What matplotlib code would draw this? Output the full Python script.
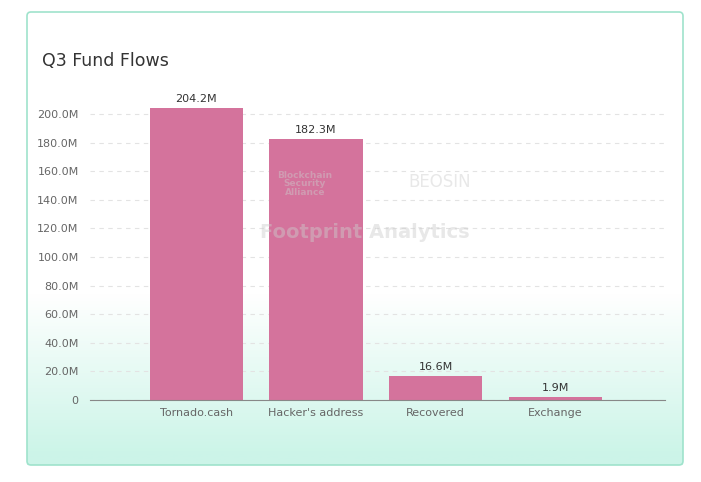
import matplotlib.pyplot as plt
import numpy as np
from matplotlib.patches import FancyBboxPatch

categories = ["Tornado.cash", "Hacker's address", "Recovered", "Exchange"]
values = [204.2, 182.3, 16.6, 1.9]
ticks = [0, 20, 40, 60, 80, 100, 120, 140, 160, 180, 200]

fig = plt.figure(figsize=(7.01, 4.82), dpi=100)

# background card with gradient towards mint at the bottom
bg = fig.add_axes([0, 0, 1, 1], zorder=-2)
bg.set_xlim(0, 701)
bg.set_ylim(482, 0)
bg.axis("off")
grad = np.ones((482, 1, 3))
for i in range(482):
    t = min(1, max(0, (i - 300) / 170))
    grad[i, 0] = (1 - t) * np.array([1, 1, 1]) + t * np.array([0.80, 0.96, 0.91])
bg.imshow(grad, extent=[27, 683, 465, 12], aspect="auto")
bg.add_patch(FancyBboxPatch((27, 12), 656, 453, boxstyle="round,pad=0,rounding_size=4",
                            fill=False, ec="#9fe3cc", lw=1.2))
bg.text(42, 61, "Q3 Fund Flows", fontsize=12.5, color="#333333", va="center")

ax = fig.add_axes([0.128, 0.170, 0.821, 0.623])
ax.patch.set_alpha(0)
x = np.arange(len(categories))
ax.bar(x, values, width=0.78, color="#d4739c", zorder=2)
for xi, v in zip(x, values):
    ax.text(xi, v + 3, f"{v}M", ha="center", va="bottom", fontsize=8, color="#333333")
ax.set_ylim(0, 210)
ax.set_xlim(-0.89, 3.92)
ax.set_yticks(ticks)
ax.set_yticklabels([f"{t:.1f}M" if t else "0" for t in ticks], fontsize=8, color="#666666")
ax.set_xticks(x)
ax.set_xticklabels(categories, fontsize=8, color="#666666")
ax.tick_params(axis="x", length=0, pad=6)
ax.grid(axis="y", ls=(0, (4, 4)), color="#e3e3e3", lw=0.8, zorder=0)
for s in ["top", "right", "left"]:
    ax.spines[s].set_visible(False)
ax.spines["bottom"].set_color("#888888")
ax.tick_params(axis="y", length=0, pad=8)

# watermark overlay
wm = fig.add_axes([0, 0, 1, 1], zorder=5)
wm.set_xlim(0, 701)
wm.set_ylim(482, 0)
wm.axis("off")
wm.patch.set_alpha(0)
wm.text(365, 233, "Footprint Analytics", fontsize=14, color="#cccccc", alpha=0.45,
        fontweight="bold", ha="center", va="center")
wm.text(305, 184, "Blockchain\nSecurity\nAlliance", fontsize=6.5, color="#cccccc", alpha=0.45,
        fontweight="bold", ha="center", va="center", linespacing=0.9)
wm.text(440, 182, "BEOSIN", fontsize=12, color="#cccccc", alpha=0.45, ha="center", va="center")

fig.savefig("out.png", dpi=100)
